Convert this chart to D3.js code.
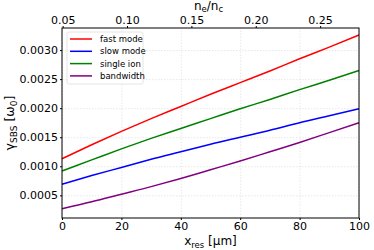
<!DOCTYPE html>
<html>
<head>
<meta charset="utf-8">
<script src="https://d3js.org/d3.v7.min.js"></script>
<style>
  body { margin: 0; background: #fff; }
  svg text { font-family: "DejaVu Sans", sans-serif; fill: #000; }
  .grid line { stroke: #d9d9d9; stroke-width: 0.6; stroke-dasharray: 1.5 1.5; }
  .grid path { display: none; }
  .tick-lbl text { font-size: 11px; }
</style>
</head>
<body>
<div id="chart"></div>
<script>
// x resolution [um]
const xRes = [0, 10, 20, 30, 40, 50, 60, 70, 80, 90, 100];
const fastMode = [0.00113, 0.00137, 0.00160, 0.00182, 0.00203, 0.00224, 0.00244, 0.00264, 0.00285, 0.00305, 0.00326];
const singleIon = [0.00092, 0.00111, 0.00130, 0.00148, 0.00165, 0.00182, 0.00199, 0.00215, 0.00232, 0.00248, 0.00265];
const slowMode = [0.00069, 0.00084, 0.00098, 0.00112, 0.00125, 0.00138, 0.00150, 0.00162, 0.00175, 0.00187, 0.00199];
const bandwidth = [0.00027, 0.00039, 0.00052, 0.00065, 0.00079, 0.00094, 0.00109, 0.00125, 0.00141, 0.00158, 0.00175];

const seriesNames = ["fast mode", "slow mode", "single ion", "bandwidth"];
const seriesColors = ["#ff0000", "#0000ff", "#008000", "#800080"];
const seriesValues = [fastMode, slowMode, singleIon, bandwidth];

const xTicks = [0, 20, 40, 60, 80, 100];
const yTicks = [0.0005, 0.0010, 0.0015, 0.0020, 0.0025, 0.0030];
const topTicks = [0.05, 0.10, 0.15, 0.20, 0.25];

const W = 374, H = 250;
const margin = { top: 28, right: 15, bottom: 32, left: 62 };
const width = W - margin.left - margin.right,
      height = H - margin.top - margin.bottom;

const svg = d3.select("#chart").append("svg")
    .attr("width", W).attr("height", H);
const g = svg.append("g")
    .attr("transform", `translate(${margin.left},${margin.top})`);

const x = d3.scaleLinear().domain([0, 100]).range([0, width]);
const y = d3.scaleLinear().domain([0.00011, 0.00338]).range([height, 0]);
const xTop = d3.scaleLinear().domain([0.0495, 0.2802]).range([0, width]);

// grid
g.append("g").attr("class", "grid")
    .attr("transform", `translate(0,${height})`)
    .call(d3.axisBottom(x).tickValues(xTicks).tickSize(-height).tickFormat(""));
g.append("g").attr("class", "grid")
    .call(d3.axisLeft(y).tickValues(yTicks).tickSize(-width).tickFormat(""));

// lines
const line = d3.line()
    .curve(d3.curveMonotoneX)
    .x((d, i) => x(xRes[i]))
    .y(d => y(d));
seriesValues.forEach((vals, k) => {
  g.append("path")
    .datum(vals)
    .attr("fill", "none")
    .attr("stroke", seriesColors[k])
    .attr("stroke-width", 1.5)
    .attr("d", line);
});

// axes
g.append("g").attr("class", "tick-lbl")
    .attr("transform", `translate(0,${height})`)
    .call(d3.axisBottom(x).tickValues(xTicks).tickSize(2).tickPadding(2).tickSizeOuter(0))
    .call(a => a.select(".domain").remove());
g.append("g").attr("class", "tick-lbl")
    .call(d3.axisLeft(y).tickValues(yTicks).tickSize(2).tickPadding(2).tickFormat(d3.format(".4f")).tickSizeOuter(0))
    .call(a => a.select(".domain").remove());
g.append("g").attr("class", "tick-lbl")
    .call(d3.axisTop(xTop).tickValues(topTicks).tickSize(2).tickPadding(2).tickFormat(d3.format(".2f")).tickSizeOuter(0))
    .call(a => a.select(".domain").remove());
g.selectAll(".tick-lbl text").attr("font-family", null);

// frame
g.append("rect")
    .attr("width", width).attr("height", height)
    .attr("fill", "none").attr("stroke", "#000").attr("stroke-width", 1);

// legend
const leg = g.append("g").attr("transform", "translate(5,4)");
leg.append("rect")
    .attr("width", 76).attr("height", 52).attr("rx", 2)
    .attr("fill", "#fff").attr("fill-opacity", 0.8)
    .attr("stroke", "#dddddd").attr("stroke-width", 0.8);
seriesNames.forEach((name, k) => {
  const yy = 7 + k * 12.3;
  leg.append("line")
    .attr("x1", 3).attr("x2", 25).attr("y1", yy).attr("y2", yy)
    .attr("stroke", seriesColors[k]).attr("stroke-width", 1.5);
  leg.append("text")
    .attr("x", 33).attr("y", yy).attr("dy", "0.35em")
    .attr("font-size", 8.5).text(name);
});

// axis labels
const xl = svg.append("text")
    .attr("x", margin.left + width / 2).attr("y", 245)
    .attr("text-anchor", "middle").attr("font-size", 12);
xl.append("tspan").text("x");
xl.append("tspan").attr("font-size", 8.5).attr("dy", 2.5).text("res");
xl.append("tspan").attr("dy", -2.5).text(" [μm]");

const tl = svg.append("text")
    .attr("x", margin.left + width / 2 - 2).attr("y", 10)
    .attr("text-anchor", "middle").attr("font-size", 12);
tl.append("tspan").text("n");
tl.append("tspan").attr("font-size", 8.5).attr("dy", 2).text("e");
tl.append("tspan").attr("dy", -2).text("/n");
tl.append("tspan").attr("font-size", 8.5).attr("dy", 2).text("c");

const yl = svg.append("text")
    .attr("transform", `translate(14,${margin.top + height / 2}) rotate(-90)`)
    .attr("text-anchor", "middle").attr("font-size", 12.5);
yl.append("tspan").text("γ");
yl.append("tspan").attr("font-size", 9).attr("dy", 2.5).text("SBS");
yl.append("tspan").attr("dy", -2.5).text(" [ω");
yl.append("tspan").attr("font-size", 9).attr("dy", 2.5).text("0");
yl.append("tspan").attr("dy", -2.5).text("]");
</script>
</body>
</html>
